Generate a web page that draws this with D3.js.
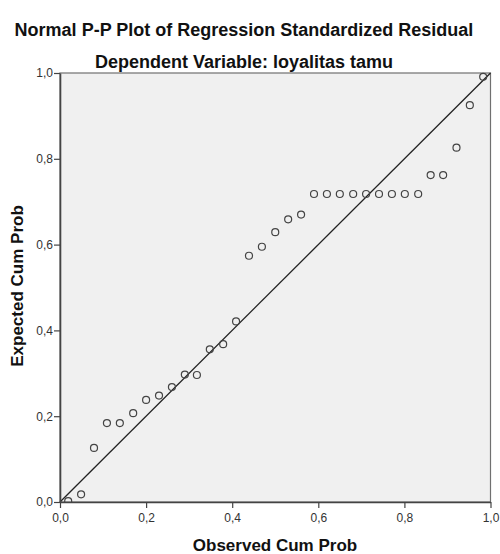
<!DOCTYPE html>
<html>
<head>
<meta charset="utf-8">
<script src="https://cdn.jsdelivr.net/npm/d3@7"></script>
<style>
  html, body { margin: 0; padding: 0; background: #fff; }
  svg { display: block; }
</style>
</head>
<body>
<svg id="chart" width="500" height="554"></svg>
<script>
const chartTitle = "Normal P-P Plot of Regression Standardized Residual";
const chartSubtitle = "Dependent Variable: loyalitas tamu";
const xLabel = "Observed Cum Prob";
const yLabel = "Expected Cum Prob";
const tickValues = [0, 0.2, 0.4, 0.6, 0.8, 1.0];
const tickLabels = ["0,0", "0,2", "0,4", "0,6", "0,8", "1,0"];
const observedCumProb = [0.019, 0.049, 0.079, 0.109, 0.139, 0.170, 0.200, 0.230, 0.260, 0.290,
  0.318, 0.348, 0.379, 0.409, 0.439, 0.469, 0.500, 0.530, 0.560, 0.590,
  0.620, 0.650, 0.681, 0.711, 0.741, 0.771, 0.801, 0.832, 0.861, 0.890,
  0.921, 0.952, 0.983];
const expectedCumProb = [0.002, 0.018, 0.126, 0.184, 0.184, 0.207, 0.238, 0.248, 0.268, 0.297,
  0.296, 0.356, 0.368, 0.421, 0.574, 0.595, 0.629, 0.659, 0.670, 0.718,
  0.718, 0.718, 0.718, 0.718, 0.718, 0.718, 0.718, 0.718, 0.762, 0.762,
  0.826, 0.925, 0.991];
const refLine = [[0, 0], [1, 1]];

const svg = d3.select("#chart");
const L = 60, R = 490.5, T = 73, B = 502;
const x = d3.scaleLinear().domain([0, 1]).range([L, R]);
const y = d3.scaleLinear().domain([0, 1]).range([B, T]);
const font = "'Liberation Sans', Arial, sans-serif";

svg.append("text").attr("x", 244).attr("y", 36).attr("text-anchor", "middle")
  .attr("font-family", font).attr("font-size", 18).attr("font-weight", "bold")
  .attr("fill", "#111").text(chartTitle);
svg.append("text").attr("x", 244).attr("y", 68).attr("text-anchor", "middle")
  .attr("font-family", font).attr("font-size", 18).attr("font-weight", "bold")
  .attr("fill", "#111").text(chartSubtitle);

// plot background
svg.append("rect").attr("x", L).attr("y", T).attr("width", R - L).attr("height", B - T)
  .attr("fill", "#f0f0f0").attr("stroke", "#707070").attr("stroke-width", 1.2);

const clip = svg.append("clipPath").attr("id", "clip");
clip.append("rect").attr("x", L).attr("y", T - 10).attr("width", R - L + 10).attr("height", B - T + 10);

// reference line
svg.append("path").datum(refLine)
  .attr("d", d3.line().x(d => x(d[0])).y(d => y(d[1])))
  .attr("stroke", "#222").attr("stroke-width", 1.3).attr("fill", "none");

// points
svg.append("g").attr("clip-path", "url(#clip)")
  .selectAll("circle").data(observedCumProb).join("circle")
  .attr("cx", d => x(d)).attr("cy", (d, i) => y(expectedCumProb[i]))
  .attr("r", 3.5).attr("fill", "none").attr("stroke", "#444").attr("stroke-width", 1.2);

// axes
const fmt = d => tickLabels[tickValues.indexOf(d)];
const xAxis = svg.append("g").attr("transform", `translate(0,${B})`)
  .call(d3.axisBottom(x).tickValues(tickValues).tickFormat(fmt).tickSize(6).tickSizeOuter(0));
const yAxis = svg.append("g").attr("transform", `translate(${L},0)`)
  .call(d3.axisLeft(y).tickValues(tickValues).tickFormat(fmt).tickSize(6).tickSizeOuter(0));
[xAxis, yAxis].forEach(a => {
  a.select(".domain").attr("stroke", "#444").attr("stroke-width", 1.6);
  a.selectAll(".tick line").attr("stroke", "#444").attr("stroke-width", 1.2);
  a.selectAll(".tick text").attr("font-family", font).attr("font-size", 12).attr("fill", "#333");
});
xAxis.selectAll(".tick text").attr("dy", "0.95em");
yAxis.selectAll(".tick text").attr("x", -7);

svg.append("text").attr("x", 275).attr("y", 551).attr("text-anchor", "middle")
  .attr("font-family", font).attr("font-size", 17).attr("font-weight", "bold")
  .attr("fill", "#111").text(xLabel);
svg.append("text").attr("transform", "translate(23,286) rotate(-90)").attr("text-anchor", "middle")
  .attr("font-family", font).attr("font-size", 17).attr("font-weight", "bold")
  .attr("fill", "#111").text(yLabel);
</script>
</body>
</html>
